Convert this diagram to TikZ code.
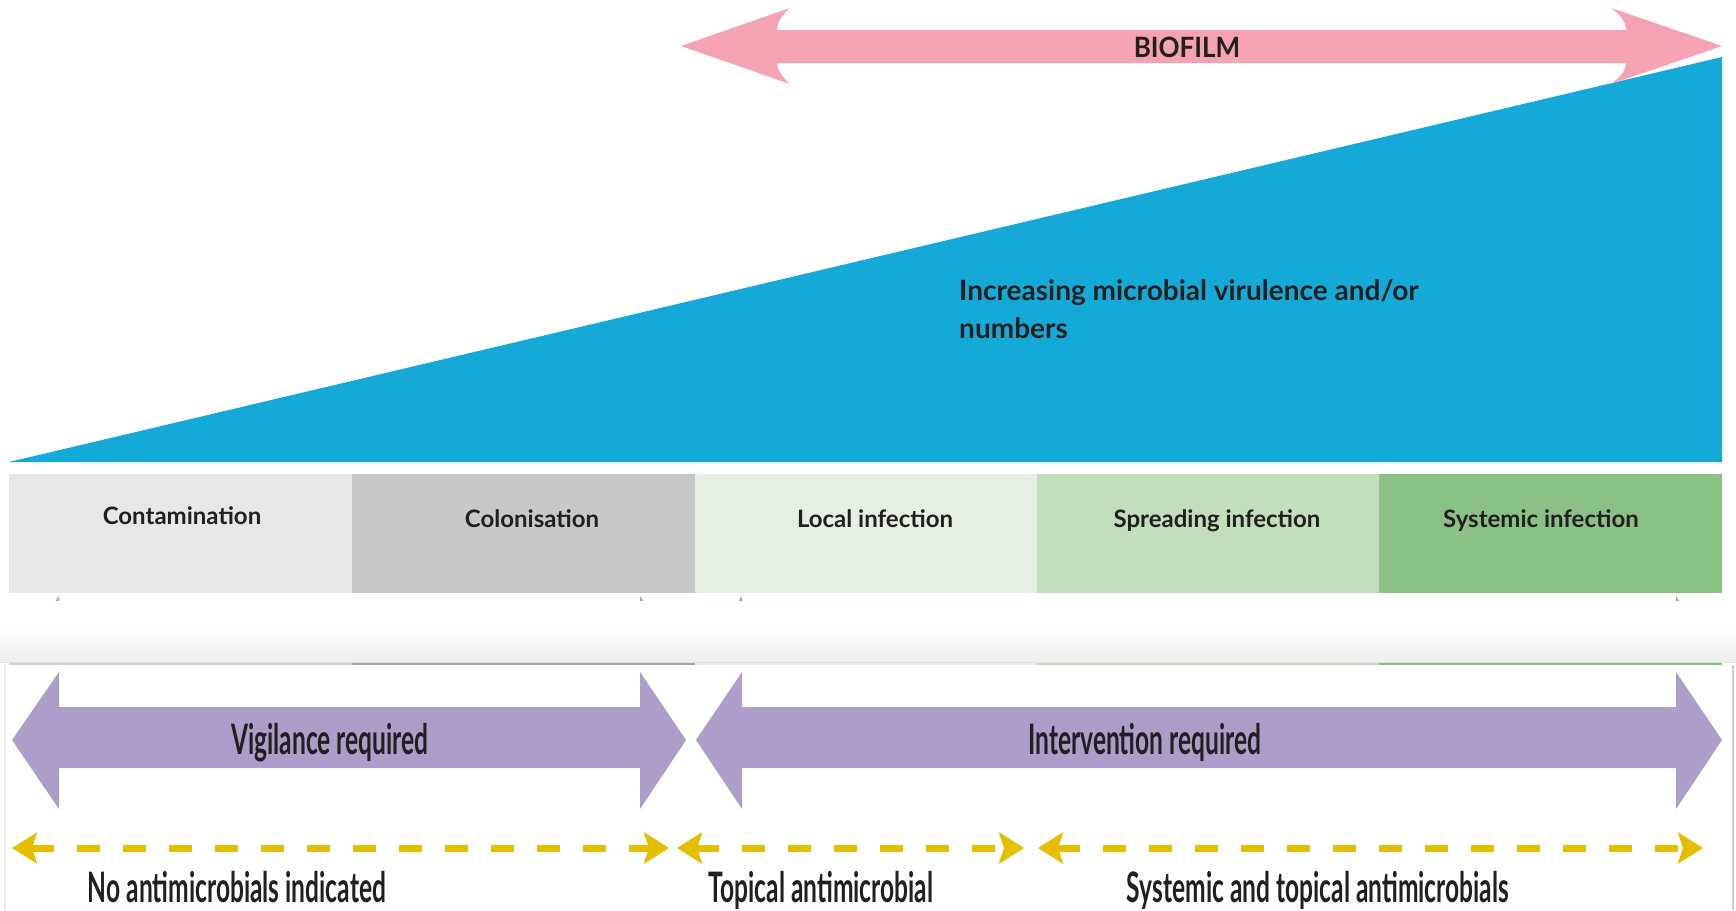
\documentclass[tikz,border=0pt]{standalone}
\usepackage{fontspec}
\setmainfont{Lato}
\newfontfamily\narrowfont[FakeStretch=0.585]{Lato}
\newfontfamily\semifont[FakeStretch=0.93]{Lato}
\usetikzlibrary{arrows.meta}

\definecolor{wedge}{HTML}{14A9D6}
\definecolor{biofilmpink}{HTML}{F5A3B2}
\definecolor{stageA}{HTML}{E6E7E8}
\definecolor{stageB}{HTML}{C7C8CA}
\definecolor{stageC}{HTML}{E5F0E3}
\definecolor{stageD}{HTML}{C2DEBB}
\definecolor{stageE}{HTML}{8AC283}
\definecolor{lilac}{HTML}{AC9DC9}
\definecolor{mustard}{HTML}{E3BF00}
\definecolor{ink}{HTML}{231F20}

% double-headed block arrow: left tip, left head back, right head back, right tip
\newcommand\lilacarrow[4]{%
  \fill[lilac] (#1,740) -- (#2,672) -- (#2,707) -- (#3,707) -- (#3,672) -- (#4,740)
    -- (#3,809) -- (#3,768) -- (#2,768) -- (#2,809) -- cycle;}

\tikzset{
  stagebox/.style={draw=none, inner sep=0, minimum height=119pt, anchor=north west},
  stagelabel/.style={font=\bfseries\fontsize{24}{28}\selectfont, text=ink, anchor=base, inner sep=0},
  bandlabel/.style={font=\narrowfont\bfseries\fontsize{42}{48}\selectfont, text=ink, anchor=base, inner sep=0},
  treatment/.style={draw=mustard, line width=7pt, dash pattern=on 23pt off 23pt,
    {Stealth[length=25pt,width=31pt,inset=5pt]}-{Stealth[length=25pt,width=31pt,inset=5pt]}},
}

\begin{document}
\begin{tikzpicture}[x=1pt,y=-1pt]
\useasboundingbox (0,0) rectangle (1736,910);

% rising wedge
\fill[wedge] (9,462) -- (1722,57) -- (1722,462) -- cycle;
\node[font=\bfseries\fontsize{28}{38}\selectfont, text=ink, align=left, anchor=north west, inner sep=0]
  (virulence) at (959,279) {Increasing microbial virulence and/or\\numbers};

% biofilm band
\fill[biofilmpink] (681,46) -- (790,8) .. controls (781,16) and (777,23) .. (777,30)
  -- (1626,30) .. controls (1626,23) and (1622,16) .. (1611,8) -- (1722,46)
  -- (1611,84) .. controls (1622,76) and (1626,69) .. (1626,63)
  -- (777,63) .. controls (777,69) and (781,76) .. (790,84) -- cycle;
\node[font=\semifont\bfseries\fontsize{28}{32}\selectfont, text=ink, inner sep=0] (biofilm) at (1187,47) {BIOFILM};

% stages
\node[stagebox, fill=stageA, minimum width=343pt] (contam) at (9,474) {};
\node[stagebox, fill=stageB, minimum width=343pt] (colon) at (352,474) {};
\node[stagebox, fill=stageC, minimum width=342pt] (local) at (695,474) {};
\node[stagebox, fill=stageD, minimum width=342pt] (spread) at (1037,474) {};
\node[stagebox, fill=stageE, minimum width=343pt] (system) at (1379,474) {};
\node[stagelabel] (contamtxt) at (182,524) {Contamination};
\node[stagelabel] (colontxt) at (532,527) {Colonisation};
\node[stagelabel] (localtxt) at (875,527) {Local infection};
\node[stagelabel] (spreadtxt) at (1217,527) {Spreading infection};
\node[stagelabel] (systemtxt) at (1541,527) {Systemic infection};

% tips of the arrow layer showing under the stages
\begin{scope}
  \clip (0,593.5) rectangle (1736,600);
  \begin{scope}[yshift=76pt]
    \lilacarrow{12}{59}{640}{686}
    \lilacarrow{696}{742}{1676}{1722}
  \end{scope}
\end{scope}

% soft separator band
\shade[top color=white, bottom color=black!7] (0,626) rectangle (1736,662);
\draw[black!12, line width=1pt] (0,662.5) -- (1736,662.5);
\draw[stageA!90!black, line width=2pt] (9,664) -- (352,664);
\draw[black!35, line width=2pt] (352,664) -- (695,664);
\draw[stageC, line width=2pt] (695,664) -- (1037,664);
\draw[stageD, line width=2pt] (1037,664) -- (1379,664);
\draw[stageE!90!green, line width=2pt] (1379,664) -- (1722,664);
\draw[black!8, line width=2pt] (5,665) -- (5,910);
\draw[black!20, line width=1.5pt] (1733,665) -- (1733,910);

% management arrows
\lilacarrow{12}{59}{640}{686}
\lilacarrow{696}{742}{1676}{1722}
\node[bandlabel] (vigil) at (330,754) {Vigilance required};
\node[bandlabel] (interv) at (1145,754) {Intervention required};

% antimicrobial ranges
\coordinate (noneL) at (12,848);
\coordinate (noneR) at (669,848);
\coordinate (topL) at (677,848);
\coordinate (topR) at (1024,848);
\coordinate (sysL) at (1038,848);
\coordinate (sysR) at (1703,848);
\draw[treatment] (noneL) -- (noneR);
\draw[treatment] (topL) -- (topR);
\draw[treatment] (sysL) -- (sysR);
\node[bandlabel] (none) at (237,902) {No antimicrobials indicated};
\node[bandlabel] (topical) at (821,902) {Topical antimicrobial};
\node[bandlabel] (systemic) at (1318,902) {Systemic and topical antimicrobials};
\end{tikzpicture}
\end{document}
